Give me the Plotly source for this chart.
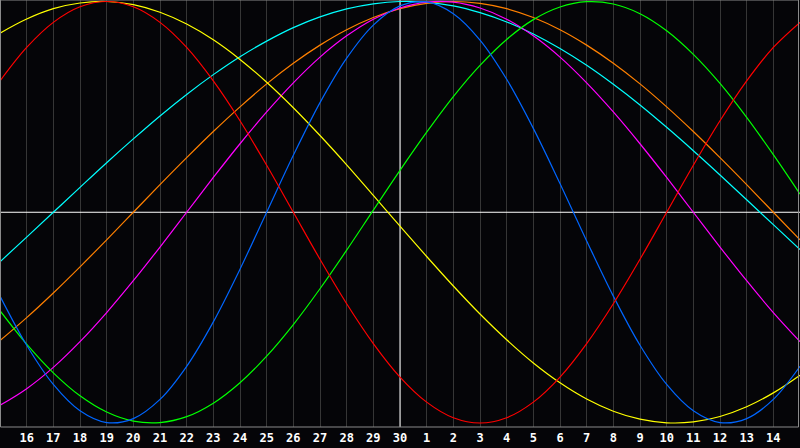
import plotly.graph_objects as go

# x positions (day index from left edge) and tick labels
day_index = list(range(31))
tick_pos = list(range(1, 30))
tick_labels = ["16", "17", "18", "19", "20", "21", "22", "23", "24", "25", "26", "27", "28", "29", "30",
               "1", "2", "3", "4", "5", "6", "7", "8", "9", "10", "11", "12", "13", "14"]

# cycle values read per day (k = 0..30)
blue_vals = [-0.398, -0.631, -0.817, -0.942, -0.998, -0.979, -0.888, -0.731, -0.520, -0.270, 0.000,
             0.270, 0.520, 0.731, 0.888, 0.979, 0.998, 0.942, 0.817, 0.631, 0.398,
             0.136, -0.136, -0.398, -0.631, -0.817, -0.942, -0.998, -0.979, -0.888, -0.731]
red_vals = [0.623, 0.782, 0.901, 0.975, 1.000, 0.975, 0.901, 0.782, 0.623, 0.434, 0.223,
            0.000, -0.223, -0.434, -0.623, -0.782, -0.901, -0.975, -1.000, -0.975, -0.901,
            -0.782, -0.623, -0.434, -0.223, 0.000, 0.223, 0.434, 0.623, 0.782, 0.901]
green_vals = [-0.467, -0.626, -0.762, -0.871, -0.948, -0.991, -0.998, -0.970, -0.906, -0.809, -0.683,
              -0.533, -0.363, -0.180, 0.010, 0.199, 0.380, 0.549, 0.697, 0.820, 0.914,
              0.974, 0.999, 0.988, 0.942, 0.861, 0.749, 0.611, 0.450, 0.273, 0.086]
yellow_vals = [0.850, 0.917, 0.966, 0.993, 1.000, 0.985, 0.949, 0.893, 0.818, 0.725, 0.617,
               0.496, 0.364, 0.225, 0.080, -0.066, -0.210, -0.350, -0.483, -0.605, -0.715,
               -0.809, -0.886, -0.944, -0.982, -0.999, -0.995, -0.969, -0.923, -0.857, -0.773]
magenta_vals = [-0.916, -0.837, -0.736, -0.614, -0.476, -0.325, -0.165, 0.000, 0.165, 0.325, 0.476,
                0.614, 0.736, 0.837, 0.916, 0.969, 0.997, 0.997, 0.969, 0.916, 0.837,
                0.736, 0.614, 0.476, 0.325, 0.165, 0.000, -0.165, -0.325, -0.476, -0.614]
orange_vals = [-0.609, -0.500, -0.383, -0.259, -0.131, 0.000, 0.131, 0.259, 0.383, 0.500, 0.609,
               0.707, 0.793, 0.866, 0.924, 0.966, 0.991, 1.000, 0.991, 0.966, 0.924,
               0.866, 0.793, 0.707, 0.609, 0.500, 0.383, 0.259, 0.131, 0.000, -0.131]
cyan_vals = [-0.235, -0.118, 0.000, 0.118, 0.235, 0.348, 0.457, 0.559, 0.653, 0.738, 0.812,
             0.876, 0.927, 0.965, 0.989, 1.000, 0.996, 0.979, 0.947, 0.903, 0.846,
             0.777, 0.697, 0.607, 0.509, 0.403, 0.292, 0.177, 0.059, -0.059, -0.177]

series = [
    ("cyan", cyan_vals, "#00ffff"),
    ("orange", orange_vals, "#ff8000"),
    ("magenta", magenta_vals, "#ff00ff"),
    ("yellow", yellow_vals, "#ffff00"),
    ("green", green_vals, "#00ff00"),
    ("blue", blue_vals, "#0066ff"),
    ("red", red_vals, "#ff0000"),
]

BG = "#050508"
fig = go.Figure()
for name, vals, col in series:
    fig.add_trace(go.Scatter(x=day_index, y=vals, mode="lines", name=name,
                             line=dict(color=col, width=1.2, shape="spline"),
                             hoverinfo="skip"))

fig.update_layout(
    width=800, height=448,
    margin=dict(l=0, r=0, t=0, b=21),
    paper_bgcolor=BG, plot_bgcolor=BG,
    showlegend=False,
    xaxis=dict(range=[0, 30], tickmode="array", tickvals=tick_pos, ticktext=tick_labels,
               showgrid=True, gridcolor="#363636", gridwidth=1, zeroline=False,
               showline=False, ticks="", fixedrange=True, ticklabelstandoff=2,
               tickfont=dict(family="DejaVu Sans Mono", size=12, color="#ffffff", weight="bold")),
    yaxis=dict(range=[-1.019, 1.0071], showgrid=False, zeroline=False, showticklabels=False,
               showline=False, ticks="", fixedrange=True),
    shapes=[
        dict(type="line", xref="x", yref="y", x0=15, x1=15, y0=-1.019, y1=1.0071,
             line=dict(color="#ffffff", width=1), layer="between"),
        dict(type="line", xref="x", yref="y", x0=0, x1=30, y0=0, y1=0,
             line=dict(color="#ffffff", width=1), layer="between"),
        dict(type="rect", xref="paper", yref="paper", x0=0.5 / 800, x1=798.5 / 800, y0=0, y1=1,
             line=dict(color="#8a8a8a", width=1), layer="above"),
    ],
)

fig.write_html("out.html", config={"displayModeBar": False},
               post_script="document.body.style.margin='0';document.body.style.padding='0';"
                           "document.body.style.overflow='hidden';"
                           "document.body.style.background='" + BG + "';")
